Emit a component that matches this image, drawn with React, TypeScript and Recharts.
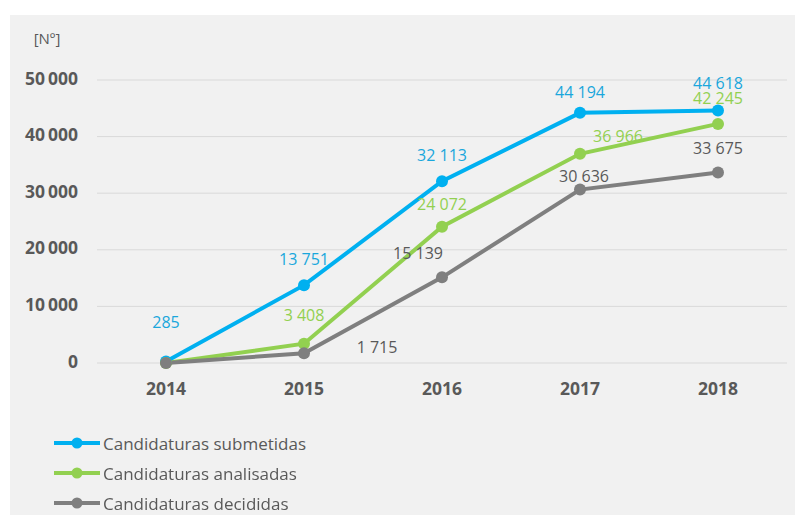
import React from 'react';
import { LineChart, Line, XAxis, YAxis, CartesianGrid, LabelList, Legend } from 'recharts';

const years = ['2014', '2015', '2016', '2017', '2018'];
const submetidas = [285, 13751, 32113, 44194, 44618];
const analisadas = [0, 3408, 24072, 36966, 42245];
const decididas = [0, 1715, 15139, 30636, 33675];
const yTicks = [0, 10000, 20000, 30000, 40000, 50000];
const seriesNames = ['Candidaturas submetidas', 'Candidaturas analisadas', 'Candidaturas decididas'];

const data = years.map((y, i) => ({
  year: y,
  submetidas: submetidas[i],
  analisadas: analisadas[i],
  decididas: decididas[i],
}));

const FONT = '"Open Sans", "Noto Sans", sans-serif';
const BLUE = '#00b0f0';
const GREEN = '#92d050';
const GRAY = '#7f7f7f';
const TEXT = '#595959';

// label offsets (dx, dy) per point, styling only
const blueOff = [[0, -38], [0, -24], [0, -25], [0, -19], [0, -26]];
const greenOff = [[0, 0], [0, -27], [0, -21], [38, -16], [0, -24]];
const grayOff = [[0, 0], [73, -5], [-24, -23], [4, -12], [0, -23]];

const fmt = (v: number) => v.toLocaleString('en-US').replace(/,/g, '\u2009');
const fmtLabel = (v: number) => v.toLocaleString('en-US').replace(/,/g, ' ');

const makeLabel = (offs: number[][], color: string) => (props: any) => {
  const { x, y, value, index } = props;
  if (!value) return null;
  const o = offs[index] || [0, 0];
  return (
    <text x={x + o[0]} y={y + o[1]} textAnchor="middle" dominantBaseline="middle" fill={color}
      fontFamily={FONT} fontSize={16}>
      {fmtLabel(value)}
    </text>
  );
};

const YTick = (props: any) => {
  const { y, payload } = props;
  return (
    <text x={78} y={y} textAnchor="end" dominantBaseline="middle" fill={TEXT}
      fontFamily={FONT} fontSize={17.5} fontWeight={700}>
      {fmt(payload.value)}
    </text>
  );
};

const XTick = (props: any) => {
  const { x, payload } = props;
  return (
    <text x={x} y={390} textAnchor="middle" dominantBaseline="middle" fill={TEXT}
      fontFamily={FONT} fontSize={17.5} fontWeight={700}>
      {payload.value}
    </text>
  );
};

const LegendContent = (props: any) => {
  const items = [...(props.payload || [])].sort(
    (a: any, b: any) => seriesNames.indexOf(a.value) - seriesNames.indexOf(b.value)
  );
  return (
    <div style={{ display: 'flex', flexDirection: 'column' }}>
      {items.map((p: any) => (
        <div key={p.value} style={{ display: 'flex', alignItems: 'center', height: 30 }}>
          <svg width={48} height={12} style={{ display: 'block' }}>
            <line x1={1} y1={6} x2={47} y2={6} stroke={p.color} strokeWidth={4} />
            <circle cx={24} cy={6} r={5.5} fill={p.color} />
          </svg>
          <span style={{ fontFamily: FONT, fontSize: 17, color: TEXT, marginLeft: 2 }}>{p.value}</span>
        </div>
      ))}
    </div>
  );
};

const NoLabel = () => (
  <text x={47} y={40} textAnchor="middle" dominantBaseline="middle" fill={TEXT}
    fontFamily={FONT} fontSize={15}>
    [Nº]
  </text>
);

export default function App() {
  return (
    <div style={{ position: 'fixed', left: 0, top: 0, width: 795, height: 515, background: '#fff' }}>
      <div style={{ position: 'absolute', left: 10, top: 15, width: 785, height: 500, background: '#f1f1f1' }} />
      <div style={{ position: 'absolute', left: 0, top: 0 }}>
        <LineChart width={795} height={515} data={data}
          margin={{ top: 80, right: 8, bottom: 112, left: 10 }}>
          <CartesianGrid horizontal vertical={false} stroke="#d9d9d9" strokeWidth={1} />
          <XAxis dataKey="year" axisLine={false} tickLine={false} tick={<XTick />} interval={0} height={40}
            padding={{ left: 69, right: 69 }} />
          <YAxis domain={[0, 50000]} ticks={yTicks} axisLine={false} tickLine={false} width={87}
            tick={<YTick />} interval={0} label={<NoLabel />} />
          <Legend layout="horizontal" align="center" verticalAlign="middle" content={<LegendContent />}
            wrapperStyle={{ position: 'absolute', left: 53, top: 428, width: 300 }} />
          <Line dataKey="submetidas" name={seriesNames[0]} stroke={BLUE} strokeWidth={4}
            dot={{ r: 6, fill: BLUE, stroke: BLUE, strokeWidth: 0 }} isAnimationActive={false}>
            <LabelList dataKey="submetidas" content={makeLabel(blueOff, '#1aa7dc')} />
          </Line>
          <Line dataKey="analisadas" name={seriesNames[1]} stroke={GREEN} strokeWidth={4}
            dot={{ r: 6, fill: GREEN, stroke: GREEN, strokeWidth: 0 }} isAnimationActive={false}>
            <LabelList dataKey="analisadas" content={makeLabel(greenOff, GREEN)} />
          </Line>
          <Line dataKey="decididas" name={seriesNames[2]} stroke={GRAY} strokeWidth={4}
            dot={{ r: 6, fill: GRAY, stroke: GRAY, strokeWidth: 0 }} isAnimationActive={false}>
            <LabelList dataKey="decididas" content={makeLabel(grayOff, TEXT)} />
          </Line>
        </LineChart>
      </div>
    </div>
  );
}
